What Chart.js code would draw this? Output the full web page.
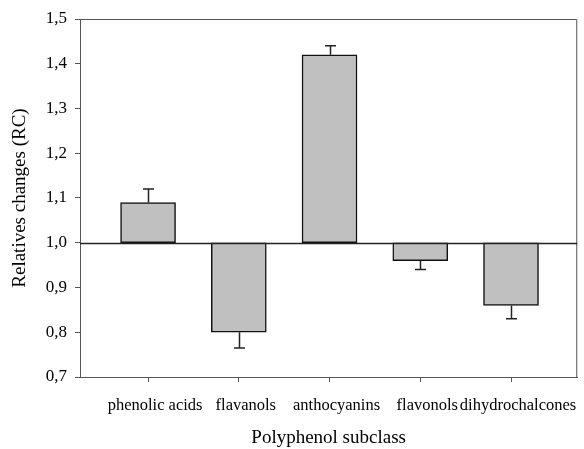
<!DOCTYPE html>
<html>
<head>
<meta charset="utf-8">
<script src="https://cdn.jsdelivr.net/npm/chart.js@4.4.1/dist/chart.umd.min.js"></script>
<style>
  html, body { margin: 0; padding: 0; background: #fff; }
  #wrap { width: 584px; height: 449px; }
</style>
</head>
<body>
<div id="wrap"><canvas id="rcChart" width="584" height="449"></canvas></div>
<script>
// --- data ---
const subclasses = ['phenolic acids', 'flavanols', 'anthocyanins', 'flavonols', 'dihydrochalcones'];
const rcValues   = [1.09, 0.80, 1.42, 0.96, 0.86];
const rcErrors   = [0.03, 0.035, 0.02, 0.02, 0.03];
const baseline   = 1.0;
const yTicks     = [0.7, 0.8, 0.9, 1.0, 1.1, 1.2, 1.3, 1.4, 1.5];

const serif = "'Liberation Serif', 'Times New Roman', serif";
const axisGrey = '#555';

// frame, 1.0 reference line and one-sided error bars
const extrasPlugin = {
    id: 'extras',
    afterDatasetsDraw(chart) {
        const { ctx, chartArea: a, scales: { x, y } } = chart;
        ctx.save();

        // box around the plot
        ctx.strokeStyle = axisGrey;
        ctx.lineWidth = 1;
        ctx.beginPath();
        ctx.moveTo(a.left, a.top + 0.5);
        ctx.lineTo(a.right - 0.5, a.top + 0.5);
        ctx.lineTo(a.right - 0.5, a.bottom);
        ctx.stroke();

        // reference line at 1.0
        const yb = Math.round(y.getPixelForValue(baseline)) + 0.5;
        ctx.strokeStyle = '#222';
        ctx.lineWidth = 1.5;
        ctx.beginPath();
        ctx.moveTo(a.left, yb);
        ctx.lineTo(a.right, yb);
        ctx.stroke();

        // error bars (pointing away from the baseline)
        ctx.lineWidth = 1.5;
        rcValues.forEach((v, i) => {
            const dir = v >= baseline ? 1 : -1;
            const px = Math.round(x.getPixelForValue(i)) + 0.5;
            const y0 = y.getPixelForValue(v);
            const y1 = y.getPixelForValue(v + dir * rcErrors[i]);
            ctx.beginPath();
            ctx.moveTo(px, y0);
            ctx.lineTo(px, y1);
            ctx.moveTo(px - 5.5, y1);
            ctx.lineTo(px + 5.5, y1);
            ctx.stroke();
        });
        ctx.restore();
    }
};

new Chart(document.getElementById('rcChart'), {
    type: 'bar',
    data: {
        datasets: [{
            data: rcValues.map((v, i) => ({ x: i, y: [baseline, v] })),
            backgroundColor: '#c0c0c0',
            borderColor: '#111',
            borderWidth: 1.5,
            borderSkipped: false,
            barThickness: 55
        }]
    },
    options: {
        responsive: false,
        animation: false,
        events: [],
        layout: { padding: { top: 19, right: 6, left: 0, bottom: 0 } },
        plugins: { legend: { display: false }, tooltip: { enabled: false } },
        scales: {
            x: {
                type: 'linear',
                offset: false,
                min: -0.75,
                max: 4.73,
                afterFit(scale) { scale.height = 72; },
                afterBuildTicks(scale) { scale.ticks = subclasses.map((_, i) => ({ value: i })); },
                grid: { offset: false, drawOnChartArea: false, drawTicks: true, tickLength: 5, color: axisGrey },
                border: { display: true, color: axisGrey, width: 1 },
                ticks: {
                    autoSkip: false,
                    maxRotation: 0,
                    padding: 14,
                    labelOffset: 7,
                    color: '#000',
                    font: { family: serif, size: 16.5 },
                    callback: (v) => subclasses[v]
                },
                title: {
                    display: true,
                    text: 'Polyphenol subclass',
                    color: '#000',
                    font: { family: serif, size: 19 },
                    padding: { top: 0, bottom: 0 }
                }
            },
            y: {
                min: yTicks[0],
                max: yTicks[yTicks.length - 1],
                afterFit(scale) { scale.width = 80; },
                afterBuildTicks(scale) {
                    // major ticks plus unlabelled minor ticks halfway between
                    const t = [];
                    yTicks.forEach((v, i) => {
                        t.push({ value: v });
                        if (i < yTicks.length - 1) t.push({ value: (v + yTicks[i + 1]) / 2, minor: true });
                    });
                    scale.ticks = t;
                },
                grid: { drawOnChartArea: false, drawTicks: true, tickLength: 5, color: axisGrey },
                border: { display: true, color: axisGrey, width: 1 },
                ticks: {
                    padding: 8,
                    color: '#000',
                    font: { family: serif, size: 17 },
                    callback: (v) => yTicks.some(t => Math.abs(t - v) < 1e-6) ? v.toFixed(1).replace('.', ',') : ''
                },
                title: {
                    display: true,
                    text: 'Relatives changes (RC)',
                    color: '#000',
                    font: { family: serif, size: 19 },
                    padding: { top: 9, bottom: 0 }
                }
            }
        }
    },
    plugins: [extrasPlugin]
});
</script>
</body>
</html>
